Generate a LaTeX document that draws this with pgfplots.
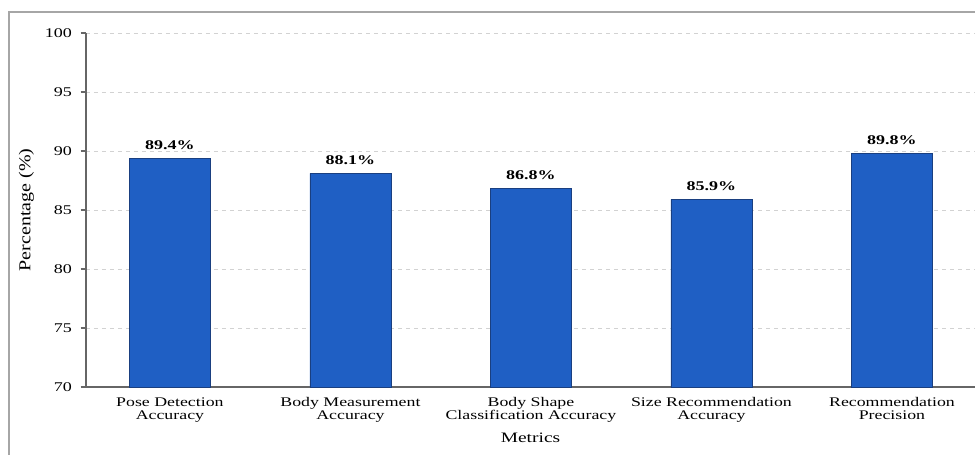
\documentclass[border=0pt]{standalone}
\usepackage{pgfplots}
\pgfplotsset{compat=1.18}
\usepackage{fontspec}
\setmainfont{Liberation Serif}[FakeStretch=1.35]
\newfontfamily\ylabserif{Liberation Serif}[FakeStretch=1.2]
\definecolor{barblue}{HTML}{1F5FC4}
\definecolor{baredge}{HTML}{1A3F80}
\begin{document}
\begin{tikzpicture}
\useasboundingbox (-64.5pt,-50.25pt) rectangle (666.75pt,290.25pt);
\draw[gray!70, line width=0.8pt] (-57.75pt,-60pt) -- (-57.75pt,281.25pt) -- (670pt,281.25pt);
\begin{axis}[
  at={(0pt,0pt)}, anchor=south west,
  scale only axis,
  width=666.75pt, height=265.5pt,
  xmin=-0.465, xmax=4.46,
  ymin=70, ymax=100,
  ytick={70,75,...,100},
  xtick={0,1,2,3,4},
  xticklabels={{Pose Detection\\Accuracy},{Body Measurement\\Accuracy},{Body Shape\\Classification Accuracy},{Size Recommendation\\Accuracy},{Recommendation\\Precision}},
  x tick label style={align=center, font=\fontsize{9.9pt}{10pt}\selectfont, inner sep=1pt, yshift=-2.5pt},
  y tick label style={font=\fontsize{10pt}{12pt}\selectfont, xshift=-3pt},
  /pgf/number format/assume math mode=true,
  axis x line*=bottom, axis y line*=left,
  axis line style={gray!80!black, line width=0.8pt},
  x axis line style={-}, y axis line style={-},
  tick align=outside,
  major tick length=4pt,
  x tick style={draw=none},
  y tick style={gray!80!black, line width=0.8pt},
  ymajorgrids,
  grid style={dashed, gray!35, line width=0.5pt},
  xlabel={Metrics},
  ylabel={Percentage (\%)},
  xlabel style={font=\fontsize{10.8pt}{12pt}\selectfont, at={(axis description cs:0.5,0)}, anchor=center, yshift=-38.25pt},
  every axis y label/.style={at={(axis description cs:-0.067,0.5)}, rotate=90, anchor=center, font=\ylabserif\fontsize{12.5pt}{14pt}\selectfont},
  ybar, bar width=60.75pt,
  nodes near coords={\pgfmathprintnumber[fixed,precision=1,fixed zerofill]{\pgfplotspointmeta}\%},
  every node near coord/.append style={font=\bfseries\fontsize{10pt}{12pt}\selectfont, black, yshift=3pt},
]
\addplot[fill=barblue, draw=baredge, line width=0.5pt] coordinates {(0,89.4) (1,88.1) (2,86.8) (3,85.9) (4,89.8)};
\end{axis}
\end{tikzpicture}
\end{document}
